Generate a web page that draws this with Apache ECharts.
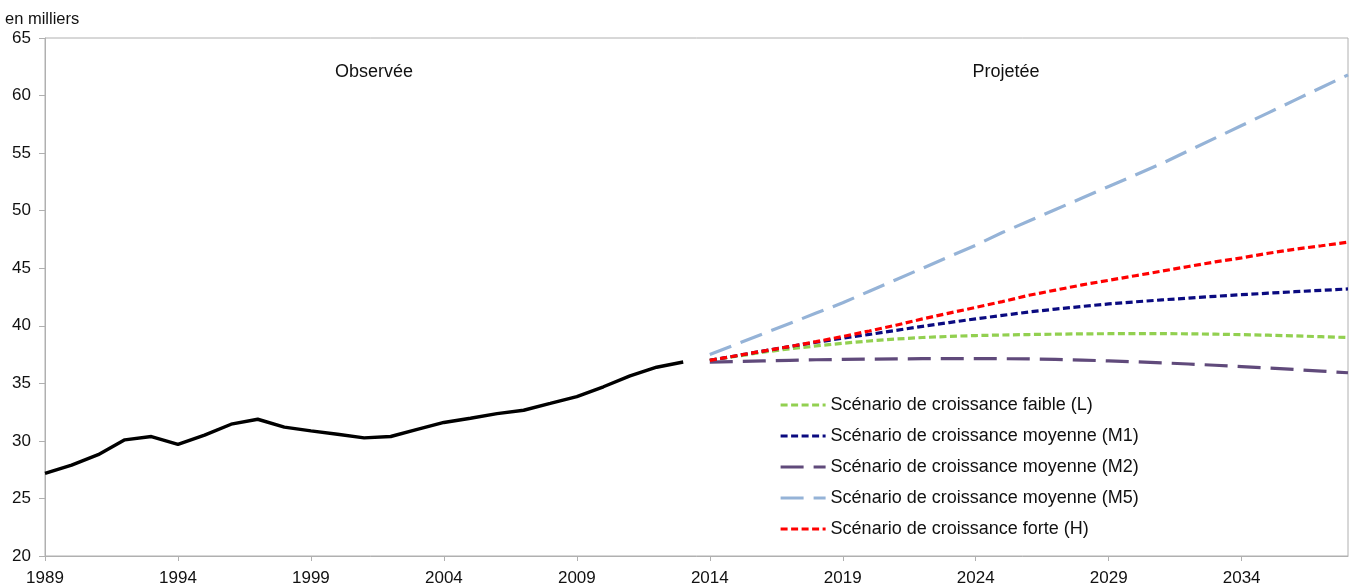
<!DOCTYPE html>
<html>
<head>
<meta charset="utf-8">
<style>
  html, body { margin: 0; padding: 0; background: #fff; }
  #chart { width: 1351px; height: 588px; }
</style>
<script src="https://cdn.jsdelivr.net/npm/echarts@6/dist/echarts.min.js"></script>
</head>
<body>
<div id="chart"></div>
<script>
// Years on the horizontal axis (observed 1989–2013, projected 2014–2038)
const years = [
  '1989','1990','1991','1992','1993','1994','1995','1996','1997','1998',
  '1999','2000','2001','2002','2003','2004','2005','2006','2007','2008',
  '2009','2010','2011','2012','2013','2014','2015','2016','2017','2018',
  '2019','2020','2021','2022','2023','2024','2025','2026','2027','2028',
  '2029','2030','2031','2032','2033','2034','2035','2036','2037','2038'
];

// Observed values, 1989–2013 (thousands)
const observed = [
  27.17, 27.9, 28.8, 30.09, 30.38, 29.7, 30.5, 31.45, 31.88, 31.2,
  30.87, 30.58, 30.26, 30.38, 31.0, 31.6, 31.97, 32.37, 32.66, 33.25,
  33.85, 34.7, 35.65, 36.4, 36.85
];

// Projection scenarios, 2014–2038 (thousands)
const scenarioL = [
  37.0, 37.35, 37.7, 38.0, 38.25, 38.48, 38.68, 38.85, 38.98, 39.08,
  39.15, 39.2, 39.24, 39.27, 39.3, 39.31, 39.32, 39.32, 39.3, 39.27,
  39.23, 39.18, 39.12, 39.05, 38.98
];
const scenarioM1 = [
  37.0, 37.4, 37.8, 38.2, 38.57, 38.92, 39.25, 39.6, 39.95, 40.28,
  40.6, 40.9, 41.2, 41.45, 41.68, 41.9, 42.08, 42.25, 42.4, 42.56,
  42.7, 42.83, 42.96, 43.08, 43.2
];
const scenarioM2 = [
  36.85, 36.9, 36.95, 37.0, 37.05, 37.08, 37.1, 37.12, 37.14, 37.15,
  37.15, 37.14, 37.12, 37.08, 37.02, 36.95, 36.87, 36.78, 36.68, 36.57,
  36.45, 36.33, 36.2, 36.06, 35.92
];
const scenarioM5 = [
  37.5, 38.4, 39.3, 40.2, 41.1, 42.0, 43.0, 44.0, 45.0, 46.0,
  47.0, 48.1, 49.1, 50.1, 51.1, 52.1, 53.1, 54.1, 55.2, 56.3,
  57.4, 58.5, 59.6, 60.7, 61.8
];
const scenarioH = [
  37.0, 37.4, 37.8, 38.2, 38.62, 39.07, 39.55, 40.05, 40.6, 41.1,
  41.6, 42.1, 42.65, 43.1, 43.55, 43.95, 44.35, 44.75, 45.15, 45.55,
  45.9, 46.3, 46.65, 46.95, 47.26
];

const scenarioNames = [
  'Scénario de croissance faible (L)',
  'Scénario de croissance moyenne (M1)',
  'Scénario de croissance moyenne (M2)',
  'Scénario de croissance moyenne (M5)',
  'Scénario de croissance forte (H)'
];

const FONT = 'Arial, "Liberation Sans", Helvetica, sans-serif';
const AXIS_GREY = '#b0b0b0';

// Observed series fills the first part of the axis; projections the rest
const observedData = observed.concat(new Array(years.length - observed.length).fill(null));
const projPad = new Array(years.length - scenarioL.length).fill(null);

const shortDash = [7, 3.5];
const longDash = [23, 10];

function scenario(name, values, color, dash) {
  return {
    name: name,
    type: 'line',
    data: projPad.concat(values),
    symbol: 'none',
    smooth: false,
    lineStyle: { color: color, width: 3.2, type: dash },
    // marker is hidden so the legend shows only the dashed stroke
    itemStyle: { color: color, opacity: 0 },
    emphasis: { disabled: true },
    silent: true
  };
}

const chart = echarts.init(document.getElementById('chart'), null, { renderer: 'canvas' });

chart.setOption({
  animation: false,
  backgroundColor: '#ffffff',
  textStyle: { fontFamily: FONT },
  grid: {
    left: 45, right: 3, top: 38, bottom: 32,
    show: true, borderColor: AXIS_GREY, borderWidth: 1, containLabel: false
  },
  legend: {
    orient: 'vertical',
    left: 774,
    top: 391,
    itemWidth: 45,
    itemHeight: 14,
    itemGap: 13,
    data: scenarioNames,
    itemStyle: { opacity: 0 },
    lineStyle: { width: 3.2 },
    textStyle: { fontFamily: FONT, fontSize: 18, color: '#111' },
    selectedMode: false
  },
  xAxis: {
    type: 'category',
    data: years,
    boundaryGap: false,
    axisLine: { show: true, lineStyle: { color: AXIS_GREY, width: 1 } },
    axisTick: { show: true, interval: 4, length: 5, lineStyle: { color: AXIS_GREY } },
    axisLabel: { interval: 4, margin: 14, fontSize: 17, color: '#111', fontFamily: FONT },
    splitLine: { show: false }
  },
  yAxis: {
    type: 'value',
    min: 20, max: 65, interval: 5,
    axisLine: { show: true, lineStyle: { color: AXIS_GREY, width: 1 } },
    axisTick: { show: true, length: 6, lineStyle: { color: AXIS_GREY } },
    axisLabel: { margin: 14, fontSize: 17, color: '#111', fontFamily: FONT },
    splitLine: { show: false }
  },
  graphic: [
    { type: 'text', left: 5, top: 11, style: { text: 'en milliers', font: '16.5px ' + FONT, fill: '#111' } },
    { type: 'text', x: 374, y: 72, style: { text: 'Observée', font: '18px ' + FONT, fill: '#111', align: 'center', verticalAlign: 'middle' } },
    { type: 'text', x: 1006, y: 72, style: { text: 'Projetée', font: '18px ' + FONT, fill: '#111', align: 'center', verticalAlign: 'middle' } }
  ],
  series: [
    {
      name: 'Observée',
      type: 'line',
      data: observedData,
      symbol: 'none',
      lineStyle: { color: '#000', width: 3.4 },
      itemStyle: { color: '#000' },
      emphasis: { disabled: true },
      silent: true
    },
    scenario(scenarioNames[0], scenarioL, '#92D050', shortDash),
    scenario(scenarioNames[1], scenarioM1, '#0A0A80', shortDash),
    scenario(scenarioNames[2], scenarioM2, '#604A7B', longDash),
    scenario(scenarioNames[3], scenarioM5, '#95B3D7', longDash),
    scenario(scenarioNames[4], scenarioH, '#FF0000', shortDash)
  ]
});
</script>
</body>
</html>
